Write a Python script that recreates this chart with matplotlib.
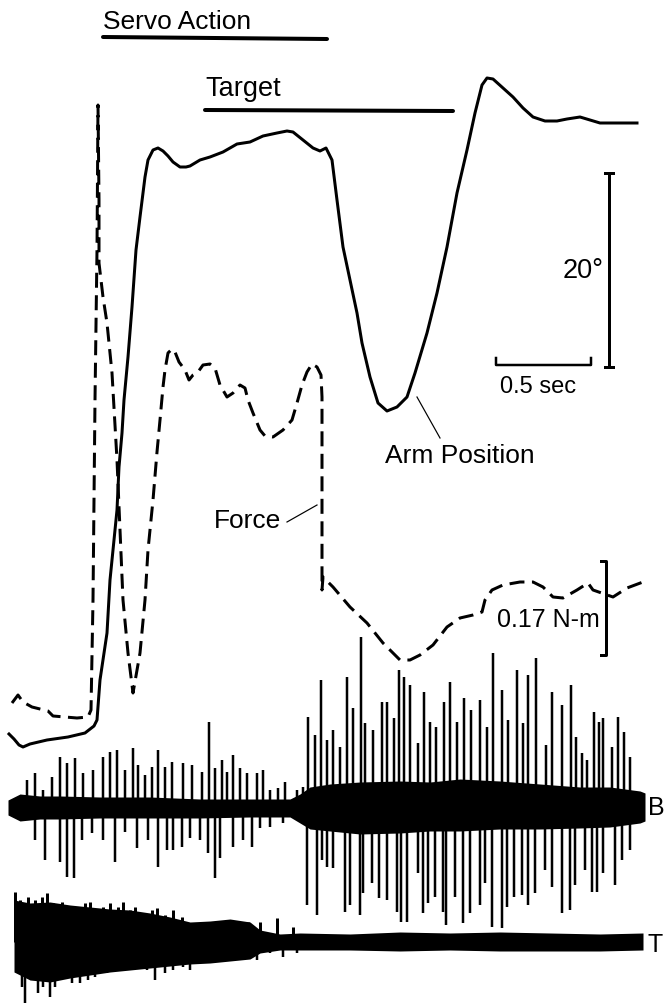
import numpy as np
import matplotlib
matplotlib.use('Agg')
import matplotlib.pyplot as plt

plt.rcParams['font.family'] = ['Liberation Sans', 'DejaVu Sans']

# trace coordinates (x = time, y = screen units, down positive)
arm_x = [9, 14, 19, 23, 30, 47, 68, 85, 94, 97,
         100, 107, 110, 113, 117, 119, 122, 124, 128, 132,
         136, 140, 145, 148, 153, 158, 163, 168, 173, 180,
         186, 190, 195, 200, 210, 223, 237, 250, 263, 277,
         287, 293, 303, 313, 320, 326, 332, 337, 343, 350,
         357, 362, 370, 378, 387, 397, 407, 415, 427, 437,
         447, 457, 467, 475, 482, 487, 493, 503, 513, 523,
         533, 545, 557, 567, 580, 590, 600, 610, 623, 637]
arm_y = [734, 739, 745, 747, 744, 740, 737, 733, 726, 720,
         680, 633, 580, 550, 510, 467, 433, 400, 357, 307,
         250, 217, 177, 160, 150, 148, 151, 156, 162, 167,
         167, 166, 163, 160, 157, 152, 144, 142, 136, 133,
         131, 132, 140, 148, 151, 148, 160, 200, 247, 280,
         313, 343, 377, 403, 411, 407, 397, 373, 333, 293,
         247, 193, 150, 113, 85, 78, 79, 88, 97, 108,
         117, 121, 121, 119, 117, 120, 123, 123, 123, 123]

force_x = [12, 18, 23, 32, 48, 53, 77, 88, 91, 93,
           95, 97, 98, 99, 99, 103, 107, 112, 117, 123,
           128, 133, 140, 145, 148, 153, 157, 160, 163, 165,
           168, 172, 175, 179, 185, 189, 193, 198, 203, 210,
           215, 220, 227, 233, 240, 245, 248, 253, 260, 265,
           273, 283, 292, 297, 302, 307, 312, 317, 321, 322,
           322, 323, 333, 350, 367, 383, 393, 400, 410, 420,
           433, 447, 460, 473, 482, 485, 492, 503, 520, 533,
           543, 553, 563, 577, 588, 593, 613, 627, 643]
force_y = [703, 695, 702, 707, 711, 716, 718, 717, 710, 600,
           400, 250, 105, 200, 263, 297, 323, 373, 460, 600,
           653, 693, 653, 600, 550, 500, 452, 420, 387, 370,
           353, 349, 352, 362, 370, 380, 375, 372, 365, 364,
           368, 385, 397, 393, 385, 388, 400, 413, 430, 436,
           437, 430, 420, 403, 385, 372, 364, 367, 375, 397,
           590, 577, 587, 607, 623, 643, 653, 660, 660, 655,
           645, 627, 618, 615, 612, 600, 590, 585, 582, 582,
           587, 597, 598, 590, 583, 590, 597, 588, 582]

# EMG B (biceps): baseline band and unit spikes
b_base = 807
b_env_x = [8, 20, 40, 60, 100, 150, 200, 250, 290, 300, 310, 330, 360, 400, 430, 460, 500, 540, 580, 610, 640, 645]
b_env_top = [800, 794, 796, 796, 797, 797, 799, 799, 799, 794, 787, 784, 782, 781, 782, 779, 781, 784, 787, 787, 791, 793]
b_env_bot = [815, 821, 819, 819, 818, 818, 818, 817, 817, 823, 829, 831, 834, 833, 831, 831, 829, 829, 828, 827, 823, 821]
b_up_x = [27, 35, 43, 52, 60, 67, 75, 83, 93, 103,
          110, 117, 125, 133, 138, 145, 152, 158, 165, 172,
          183, 192, 202, 209, 215, 222, 227, 233, 240, 247,
          257, 263, 270, 278, 285, 297, 303, 308, 315, 321,
          327, 333, 340, 347, 353, 361, 365, 373, 382, 387,
          394, 399, 404, 410, 418, 424, 430, 436, 444, 450,
          457, 464, 471, 480, 487, 493, 502, 508, 517, 523,
          528, 536, 546, 552, 562, 571, 576, 582, 587, 594,
          599, 603, 612, 618, 624, 630]
b_up_y = [780, 773, 790, 777, 757, 763, 758, 773, 770, 757,
          752, 750, 770, 748, 765, 775, 767, 750, 767, 762,
          763, 765, 772, 722, 768, 760, 772, 755, 768, 773,
          773, 770, 790, 788, 782, 790, 787, 717, 735, 680,
          740, 730, 747, 677, 708, 637, 723, 730, 702, 702,
          718, 670, 677, 685, 743, 692, 722, 727, 702, 682,
          722, 698, 710, 700, 727, 653, 690, 720, 670, 723,
          675, 658, 745, 692, 705, 685, 737, 753, 760, 712,
          722, 718, 747, 717, 732, 757]
b_dn_x = [35, 45, 60, 67, 74, 82, 92, 103, 115, 125,
          137, 148, 158, 167, 173, 182, 190, 200, 208, 215,
          220, 233, 243, 252, 260, 270, 283, 307, 317, 322,
          327, 333, 345, 350, 360, 363, 372, 379, 387, 397,
          401, 407, 418, 423, 428, 435, 443, 446, 455, 463,
          470, 480, 485, 492, 502, 507, 514, 522, 528, 535,
          545, 552, 562, 570, 575, 585, 592, 597, 603, 615,
          622, 630]
b_dn_y = [840, 860, 862, 877, 878, 840, 833, 840, 862, 832,
          848, 840, 867, 850, 850, 847, 838, 840, 853, 878,
          858, 847, 840, 847, 828, 827, 823, 905, 915, 860,
          867, 868, 912, 905, 915, 893, 883, 898, 900, 912,
          922, 922, 873, 913, 903, 897, 912, 925, 897, 923,
          913, 905, 883, 927, 928, 907, 897, 895, 905, 893,
          870, 887, 913, 910, 885, 870, 892, 892, 873, 885,
          860, 850]

# EMG T (triceps)
t_base = 942
t_env_x = [14, 30, 50, 70, 90, 110, 130, 150, 170, 190, 210, 230, 250, 260, 280, 300, 350, 400, 450, 500, 550, 600, 643]
t_env_top = [900, 903, 902, 905, 907, 909, 910, 913, 917, 922, 921, 919, 922, 930, 934, 933, 934, 932, 933, 932, 933, 934, 933]
t_env_bot = [972, 980, 982, 978, 975, 972, 970, 968, 966, 964, 963, 961, 959, 953, 950, 950, 950, 951, 950, 951, 951, 951, 950]
t_up_x = [15, 20, 28, 35, 42, 47, 53, 62, 68, 77, 85, 90, 98, 103, 110, 118, 123, 130, 135, 143,
          152, 157, 165, 173, 182, 193, 207, 220, 233, 248, 260, 277, 293]
t_up_y = [892, 900, 897, 900, 897, 893, 903, 902, 907, 910, 903, 902, 910, 907, 903, 907, 902, 910, 907, 913,
          910, 908, 915, 910, 917, 927, 925, 922, 925, 922, 922, 918, 927]
t_dn_x = [18, 22, 25, 33, 38, 43, 50, 55, 60, 67, 72, 80, 88, 95, 100, 107, 115, 125, 133, 147,
          155, 165, 173, 183, 190, 200, 210, 220, 233, 247, 257, 270, 283, 297]
t_dn_y = [973, 987, 1003, 973, 993, 987, 997, 987, 970, 973, 983, 983, 980, 977, 967, 973, 970, 967, 970, 970,
          980, 973, 970, 967, 970, 963, 960, 962, 960, 957, 960, 953, 957, 953]

servo_bar = ([103, 327], [37, 39])
target_bar = ([205, 453], [110, 111])

fig = plt.figure(figsize=(6.64, 10.05), dpi=100)
ax = fig.add_axes([0, 0, 1, 1])
ax.set_xlim(0, 664)
ax.set_ylim(1005, 0)
ax.axis('off')

px = 0.72  # points per pixel

ax.plot(arm_x, arm_y, color='black', lw=3 * px, solid_joinstyle='round')
ax.plot(force_x, force_y, color='black', lw=3 * px, dashes=(5, 2.5))

ax.fill_between(b_env_x, b_env_top, b_env_bot, color='black', lw=0)
ax.vlines(b_up_x, b_base, b_up_y, color='black', lw=2.5 * px)
ax.vlines(b_dn_x, b_base, b_dn_y, color='black', lw=2.5 * px)

ax.fill_between(t_env_x, t_env_top, t_env_bot, color='black', lw=0)
ax.vlines(t_up_x, t_base, t_up_y, color='black', lw=3 * px)
ax.vlines(t_dn_x, t_base, t_dn_y, color='black', lw=2.5 * px)

ax.plot(*servo_bar, color='black', lw=4 * px, solid_capstyle='round')
ax.plot(*target_bar, color='black', lw=4 * px, solid_capstyle='round')

# calibration bars
ax.plot([609, 609], [173, 367], color='black', lw=3 * px)
ax.plot([605, 613], [173, 173], color='black', lw=3 * px)
ax.plot([605, 613], [367, 367], color='black', lw=3 * px)
ax.plot([496, 496, 591, 591], [358, 365, 365, 358], color='black', lw=2.5 * px)
ax.plot([601, 606, 606, 601], [561, 561, 655, 655], color='black', lw=3 * px)

# leader lines
ax.plot([417, 440], [397, 438], color='black', lw=1.2 * px)
ax.plot([287, 317], [522, 505], color='black', lw=1.2 * px)

ax.text(103, 29, 'Servo Action', fontsize=19, va='baseline')
ax.text(205, 96, 'Target', fontsize=19.5, va='baseline')
ax.text(563, 278, '20°', fontsize=19.5, va='baseline')
ax.text(500, 393, '0.5 sec', fontsize=17, va='baseline')
ax.text(385, 463, 'Arm Position', fontsize=19, va='baseline')
ax.text(214, 528, 'Force', fontsize=19, va='baseline')
ax.text(497, 627, '0.17 N-m', fontsize=18, va='baseline')
ax.text(648, 815, 'B', fontsize=18, va='baseline')
ax.text(647, 952, 'T', fontsize=18, va='baseline')

fig.savefig('out.png', dpi=100)
